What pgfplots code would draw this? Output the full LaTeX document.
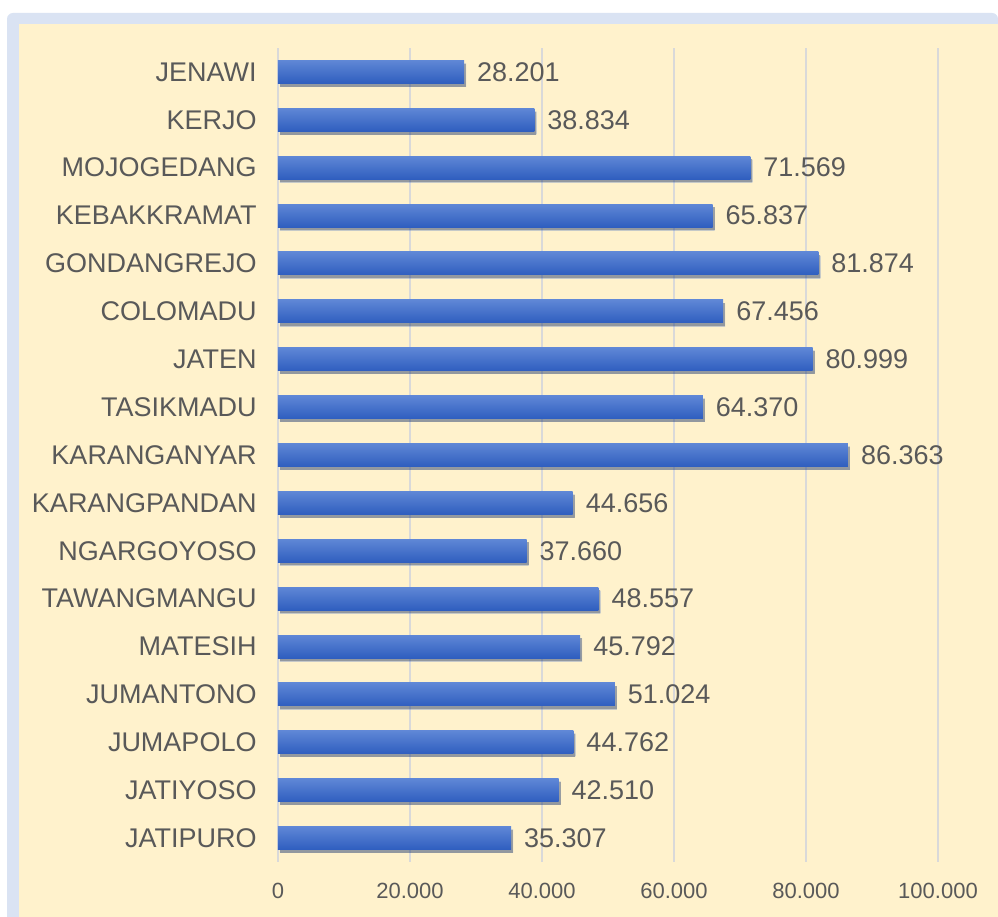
\documentclass[border=0pt]{standalone}
\usepackage{pgfplots}
\pgfplotsset{compat=1.18}
\usepackage{pgfplotstable}
\usepackage{fontspec}
\setmainfont{Liberation Sans}
\usetikzlibrary{shadows}
\definecolor{frameblue}{HTML}{DAE3F3}
\definecolor{cream}{HTML}{FFF2CC}
\definecolor{txt}{HTML}{595959}
\definecolor{gridc}{HTML}{D9D9D9}
\definecolor{bartop}{HTML}{5F87D6}
\definecolor{barbot}{HTML}{2F5EBF}
\pgfplotstableread{
y val
0 35307
1 42510
2 44762
3 51024
4 45792
5 48557
6 37660
7 44656
8 86363
9 64370
10 80999
11 67456
12 81874
13 65837
14 71569
15 38834
16 28201
}\datatable
\begin{document}
\begin{tikzpicture}
\useasboundingbox (0,0) rectangle (499pt,458.5pt);
\fill[white] (0,0) rectangle (499pt,458.5pt);
\fill[frameblue,rounded corners=3pt] (3.5pt,-5pt) rectangle (499pt,452pt);
\fill[cream] (9.5pt,0pt) rectangle (499pt,446.5pt);
\begin{axis}[
  at={(139pt,27.5pt)}, anchor=south west,
  width=330pt, height=407pt, scale only axis,
  xbar, bar width=11.5pt,
  xmin=0, xmax=100000, ymin=-0.5, ymax=16.5,
  axis line style={draw=none},
  xmajorgrids, grid style={gridc, line width=0.8pt},
  major tick length=0pt,
  xtick={0,20000,40000,60000,80000,100000},
  scaled x ticks=false,
  ytick={0,...,16},
  yticklabels={JATIPURO,JATIYOSO,JUMAPOLO,JUMANTONO,MATESIH,TAWANGMANGU,NGARGOYOSO,KARANGPANDAN,KARANGANYAR,TASIKMADU,JATEN,COLOMADU,GONDANGREJO,KEBAKKRAMAT,MOJOGEDANG,KERJO,JENAWI},
  /pgf/number format/.cd, fixed, precision=0, 1000 sep={.}, assume math mode=true,
  /pgfplots/.cd,
  xticklabel style={font=\fontsize{11}{13}\selectfont, text=txt, yshift=-7pt},
  yticklabel style={font=\fontsize{13.5}{15}\selectfont, text=txt, xshift=-7.2pt},
  nodes near coords,
  nodes near coords style={font=\fontsize{13.5}{15}\selectfont, text=txt, xshift=3pt},
]
\pgfplotsinvokeforeach{0,...,16}{
\addplot[draw=none, bar shift=0pt, top color=bartop, bottom color=barbot,
  drop shadow={shadow xshift=1pt, shadow yshift=-1.6pt, opacity=0.28, fill=black},
  restrict y to domain=#1:#1]
  table[x=val, y=y] {\datatable};
}
\end{axis}
\end{tikzpicture}
\end{document}
